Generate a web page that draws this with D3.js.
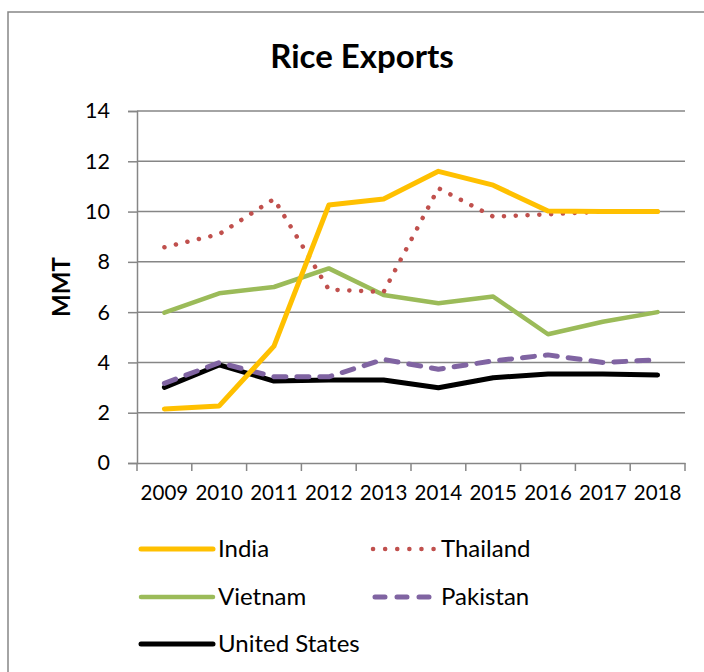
<html>
<script src='https://d3js.org/d3.v7.min.js'></script>
<style>
body { margin: 0; background: white; }
svg { font-family: 'Lato', 'Open Sans', sans-serif; }
</style>
<body>
<svg width=704 height=672></svg>
<script>
// chart data
const years = ["2009","2010","2011","2012","2013","2014","2015","2016","2017","2018"];
const india    = [2.15, 2.27, 4.65, 10.26, 10.5, 11.6, 11.05, 10.02, 10.0, 10.0];
const thailand = [8.58, 9.1, 10.5, 6.9, 6.8, 10.93, 9.8, 9.89, 10.0, 10.0];
const vietnam  = [5.98, 6.75, 7.0, 7.74, 6.68, 6.35, 6.62, 5.12, 5.62, 6.0];
const pakistan = [3.17, 3.99, 3.43, 3.43, 4.12, 3.73, 4.06, 4.3, 4.0, 4.1];
const usa      = [3.01, 3.9, 3.26, 3.3, 3.3, 2.99, 3.39, 3.54, 3.54, 3.5];
const yTicks = [0, 2, 4, 6, 8, 10, 12, 14];

const series = [
  {name: "India", values: india, color: "#FFC000", width: 5, dash: null, legDash: null},
  {name: "Thailand", values: thailand, color: "#C0504D", width: 4.5, dash: "0.1 11.7", legDash: "0.1 12"},
  {name: "Vietnam", values: vietnam, color: "#9BBB59", width: 4.5, dash: null, legDash: null},
  {name: "Pakistan", values: pakistan, color: "#8064A2", width: 5, dash: "12 11", legDash: "10 12"},
  {name: "United States", values: usa, color: "#000000", width: 5, dash: null, legDash: null}
];

const svg = d3.select("svg");

// outer frame
svg.append("rect")
  .attr("x", 8).attr("y", 12)
  .attr("width", 710).attr("height", 680)
  .attr("fill", "white")
  .attr("stroke", "#868686").attr("stroke-width", 1.5);

svg.append("text")
  .attr("x", 362).attr("y", 68)
  .attr("text-anchor", "middle")
  .style("font-size", "33px").style("font-weight", "bold")
  .text("Rice Exports");

const x = d3.scaleBand().domain(years).range([137, 685]);
const y = d3.scaleLinear().domain([0, 14]).range([463, 111]);

// gridlines
svg.append("g")
  .selectAll("line")
  .data(yTicks.filter(d => d > 0))
  .enter().append("line")
  .attr("x1", 137).attr("x2", 685)
  .attr("y1", d => y(d)).attr("y2", d => y(d))
  .attr("stroke", "#868686").attr("stroke-width", 1.5);

const yAxis = svg.append("g")
  .attr("transform", "translate(137,0)")
  .call(d3.axisLeft(y).tickValues(yTicks).tickSize(9).tickPadding(18));
const xAxis = svg.append("g")
  .attr("transform", "translate(0,463)")
  .call(d3.axisBottom(x).tickSize(0).tickPadding(22));

// x tick marks sit between categories
svg.append("g")
  .selectAll("line")
  .data(years.concat(["end"]))
  .enter().append("line")
  .attr("x1", (d, i) => i < years.length ? x(d) : x.range()[1])
  .attr("x2", (d, i) => i < years.length ? x(d) : x.range()[1])
  .attr("y1", 463).attr("y2", 471)
  .attr("stroke", "#868686").attr("stroke-width", 1.5);

[yAxis, xAxis].forEach(a => {
  a.select(".domain").attr("stroke", "#868686").attr("stroke-width", 1.5);
  a.selectAll(".tick line").attr("stroke", "#868686").attr("stroke-width", 1.5);
  a.selectAll("text").style("font-size", "21.5px").attr("fill", "black").style("font-family", "'Lato', sans-serif");
});
xAxis.selectAll("text").style("font-size", "20.5px");

svg.append("text")
  .attr("transform", "translate(70,287) rotate(-90)")
  .attr("text-anchor", "middle")
  .style("font-size", "24px").style("font-weight", "bold")
  .text("MMT");

const line = d3.line()
  .x((d, i) => x(years[i]) + x.bandwidth() / 2)
  .y(d => y(d));

svg.append("g")
  .selectAll("path")
  .data(series.slice().reverse())
  .enter().append("path")
  .attr("d", d => line(d.values))
  .attr("fill", "none")
  .attr("stroke", d => d.color)
  .attr("stroke-width", d => d.width)
  .attr("stroke-dasharray", d => d.dash)
  .attr("stroke-linecap", "round")
  .attr("stroke-linejoin", "round");

// legend
const legendPos = [[141, 549], [373, 549], [141, 597], [373, 597], [141, 644]];
const legend = svg.append("g")
  .selectAll("g")
  .data(series)
  .enter().append("g")
  .attr("transform", (d, i) => "translate(" + legendPos[i][0] + "," + legendPos[i][1] + ")");

legend.append("line")
  .attr("x1", d => d.legDash === "10 12" ? 2 : 0)
  .attr("x2", d => d.legDash ? 62 : 72)
  .attr("y1", 0).attr("y2", 0)
  .attr("stroke", d => d.color)
  .attr("stroke-width", d => d.width)
  .attr("stroke-dasharray", d => d.legDash)
  .attr("stroke-linecap", "round");

legend.append("text")
  .attr("x", (d, i) => i === 1 || i === 3 ? 68 : 77)
  .attr("y", 8)
  .style("font-size", "24px")
  .text(d => d.name);
</script>
</body>
</html>
